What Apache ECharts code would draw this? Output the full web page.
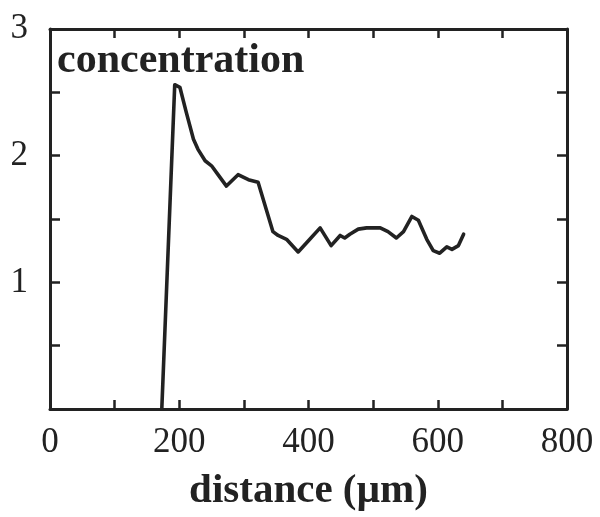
<!DOCTYPE html>
<html>
<head>
<meta charset="utf-8">
<script src="https://cdn.jsdelivr.net/npm/echarts@6/dist/echarts.min.js"></script>
<style>html,body{margin:0;padding:0;background:#fff}#c{width:600px;height:517px}</style>
</head>
<body>
<div id="c"></div>
<script>
const distance = [173, 193, 201, 211, 222, 229, 240, 250, 260, 273, 291, 307, 322, 345, 353, 366, 384, 402, 418, 435, 449, 456, 464, 477, 490, 511, 523, 536, 547, 560, 570, 583, 593, 603, 614, 622, 632, 640];
const concentration = [0, 2.56, 2.54, 2.34, 2.13, 2.05, 1.96, 1.92, 1.85, 1.76, 1.85, 1.81, 1.79, 1.40, 1.37, 1.34, 1.24, 1.34, 1.43, 1.29, 1.37, 1.35, 1.38, 1.42, 1.43, 1.43, 1.40, 1.35, 1.40, 1.52, 1.49, 1.34, 1.25, 1.23, 1.28, 1.26, 1.29, 1.38];
const xTickLabels = ['0', '200', '400', '600', '800'];
const yTickLabels = ['1', '2', '3'];
const titleText = 'concentration';
const xName = 'distance (µm)';

const ink = '#222';
const serif = '"Liberation Serif", "DejaVu Serif", serif';
const points = distance.map((d, i) => [d, concentration[i]]);

const lineSty = { show: true, onZero: false, lineStyle: { color: ink, width: 3 } };
const tickSty = (len) => ({ show: true, inside: true, length: len, lineStyle: { color: ink, width: 2.5 } });

const chart = echarts.init(document.getElementById('c'));
chart.setOption({
  animation: false,
  backgroundColor: '#fff',
  title: {
    text: titleText, left: 52, top: 35,
    textStyle: { fontFamily: serif, fontSize: 42, fontWeight: 'bold', color: ink }
  },
  grid: { left: 50, right: 33, top: 29, bottom: 106 },
  xAxis: [
    {
      type: 'value', min: 0, max: 800, interval: 100, position: 'bottom',
      axisLine: lineSty, axisTick: tickSty(9),
      splitLine: { show: false },
      axisLabel: {
        margin: 16, fontFamily: serif, fontSize: 35, color: ink,
        formatter: v => xTickLabels.includes(String(v)) ? String(v) : ''
      },
      name: xName, nameLocation: 'middle', nameGap: 62,
      nameTextStyle: { fontFamily: serif, fontSize: 41, fontWeight: 'bold', color: ink }
    },
    {
      type: 'value', min: 0, max: 800, interval: 100, position: 'top',
      axisLine: lineSty, axisTick: tickSty(9),
      axisLabel: { show: false }, splitLine: { show: false }
    }
  ],
  yAxis: [
    {
      type: 'value', min: 0, max: 3, interval: 0.5, position: 'left',
      axisLine: lineSty, axisTick: tickSty(10),
      splitLine: { show: false },
      axisLabel: {
        margin: 22, fontFamily: serif, fontSize: 35, color: ink, padding: [0, 0, 8, 0],
        formatter: v => yTickLabels.includes(String(v)) ? String(v) : ''
      }
    },
    {
      type: 'value', min: 0, max: 3, interval: 0.5, position: 'right',
      axisLine: lineSty, axisTick: tickSty(10),
      axisLabel: { show: false }, splitLine: { show: false }
    }
  ],
  series: [{
    type: 'line', data: points, xAxisIndex: 0, yAxisIndex: 0,
    showSymbol: false, symbol: 'none', smooth: false,
    lineStyle: { color: ink, width: 3.6, join: 'round', cap: 'round' }
  }]
});
</script>
</body>
</html>
